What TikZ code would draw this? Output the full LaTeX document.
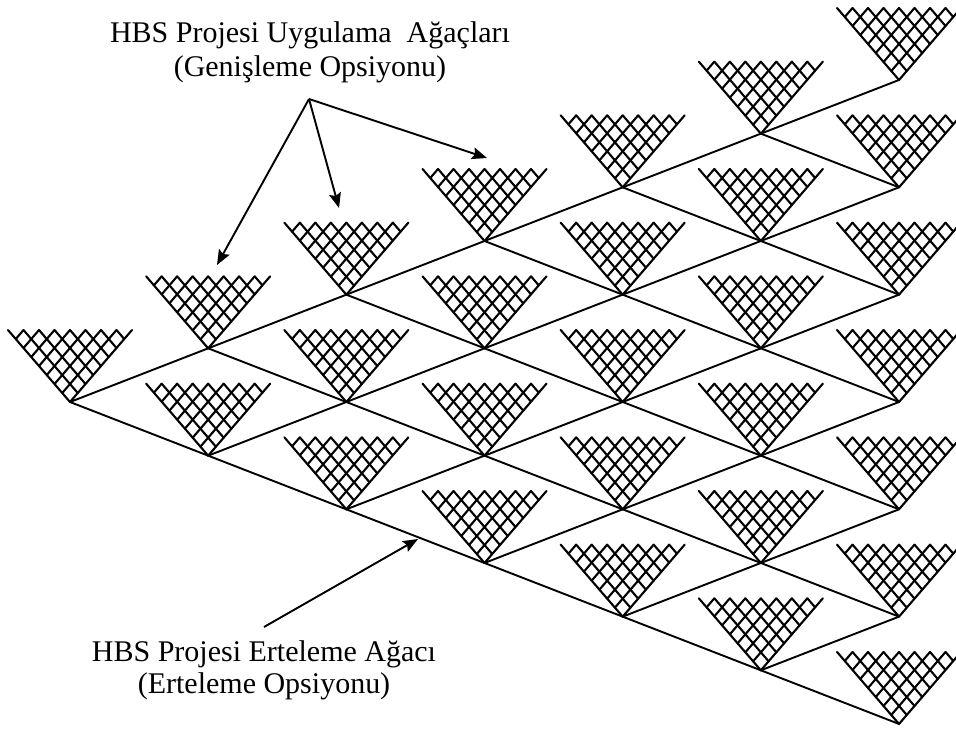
\documentclass[tikz,border=0pt]{standalone}
\usepackage{fontspec}
\setmainfont{Liberation Serif}
\usetikzlibrary{arrows.meta}
\begin{document}
\begin{tikzpicture}[x=1pt,y=-1pt,
  latline/.style={line width=1.9pt, line cap=round},
  meshline/.style={line width=2.1pt, line cap=round},
  pointerarrow/.style={line width=1.9pt, -{Stealth[length=15pt,width=12pt,inset=2.5pt]}},
  captext/.style={font=\fontsize{30}{33}\selectfont, inner sep=0pt, anchor=base},
  lattmesh/.pic={
    \foreach \k in {0,...,7}{
      \draw[meshline] ({\k*7.75}, {-\k*9}) -- ({(2*\k-8)*7.75}, -72);
      \draw[meshline] ({-\k*7.75}, {-\k*9}) -- ({(8-2*\k)*7.75}, -72);
    }
  }]
\fill[white] (0,0) rectangle (956,731);
\useasboundingbox (0,0) rectangle (956,731);
% lattice nodes
\foreach \i in {0,...,6}{
  \foreach \j in {0,...,\i}{
    \coordinate (n-\i-\j) at ({70+138.17*\i}, {402-53.67*\i+107.33*\j});
  }
}
% meshes
\foreach \i in {0,...,6}{
  \foreach \j in {0,...,\i}{
    \pic at (n-\i-\j) {lattmesh};
  }
}
% lattice edges
\foreach \i [evaluate=\i as \ii using int(\i+1)] in {0,...,5}{
  \foreach \j [evaluate=\j as \jj using int(\j+1)] in {0,...,\i}{
    \draw[latline] (n-\i-\j) -- (n-\ii-\j);
    \draw[latline] (n-\i-\j) -- (n-\ii-\jj);
  }
}
% captions
\node[captext] (t1) at (310,42) {HBS Projesi Uygulama\ \ Ağaçları};
\node[captext] (t2) at (310,76) {(Genişleme Opsiyonu)};
\node[captext] (b1) at (264,661) {HBS Projesi Erteleme Ağacı};
\node[captext] (b2) at (264,693) {(Erteleme Opsiyonu)};
% pointers
\coordinate (src) at (309,99);
\coordinate (tipA) at (217,265);
\coordinate (tipB) at (339,208);
\coordinate (tipC) at (487,158);
\draw[pointerarrow] (src) -- (tipA);
\draw[pointerarrow] (src) -- (tipB);
\draw[pointerarrow] (src) -- (tipC);
\coordinate (tail) at (264,627);
\coordinate (tipD) at (418,539);
\draw[pointerarrow] (tail) -- (tipD);
\end{tikzpicture}
\end{document}
